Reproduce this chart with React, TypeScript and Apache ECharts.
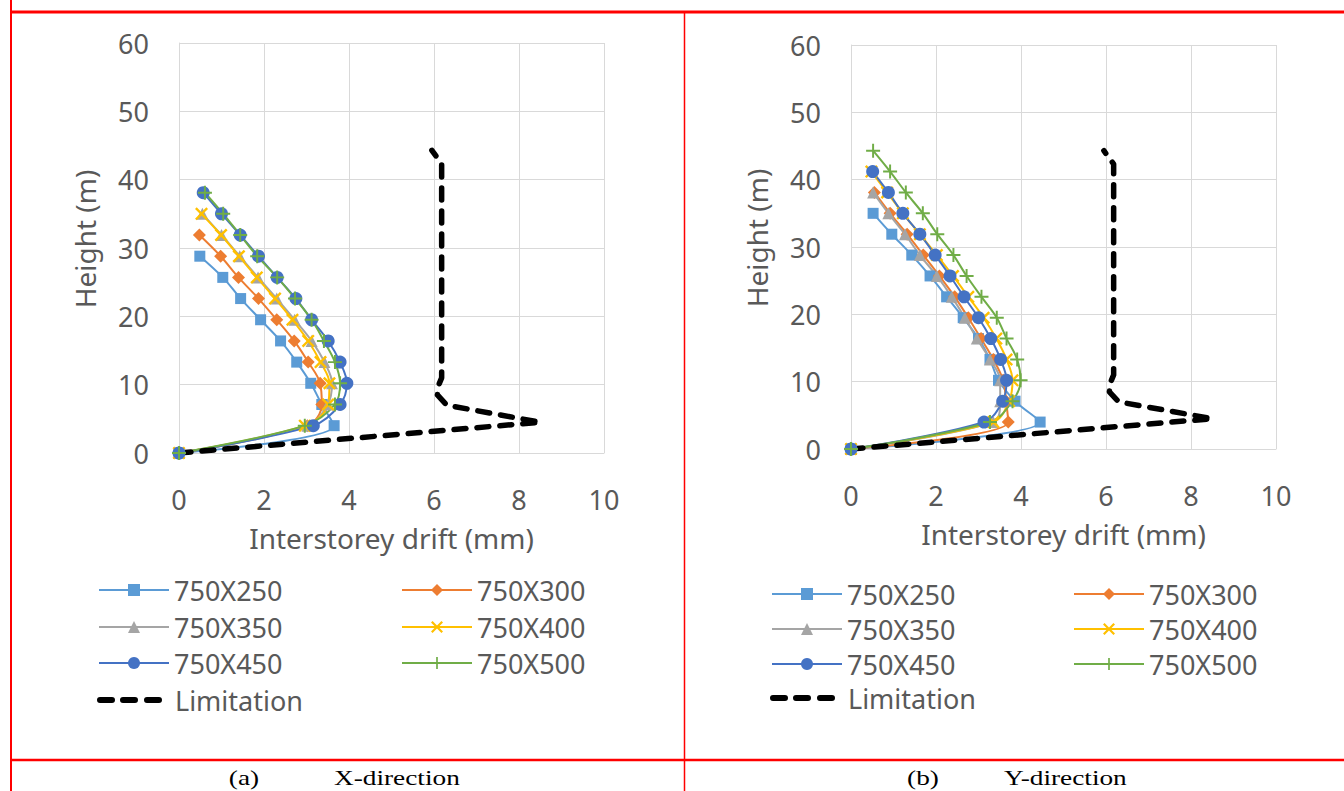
import React, { useEffect, useRef } from "react";
import * as echarts from "echarts";

// Storey levels (m), shared by both directions
const HEIGHTS = [0, 4, 7.1, 10.2, 13.3, 16.4, 19.5, 22.6, 25.7, 28.8, 31.9, 35, 38.1, 41.2, 44.3];

const SERIES_NAMES = ["750X250", "750X300", "750X350", "750X400", "750X450", "750X500"];
const LIMIT_NAME = "Limitation";

// X-direction drifts (mm), from ground upwards
const X_250 = [0, 3.65, 3.36, 3.1, 2.77, 2.39, 1.92, 1.45, 1.03, 0.49];
const X_300 = [0, 3.02, 3.36, 3.32, 3.04, 2.71, 2.3, 1.87, 1.4, 0.98, 0.48];
const X_350 = [0, 3.02, 3.5, 3.6, 3.42, 3.12, 2.72, 2.3, 1.86, 1.43, 1.0, 0.55];
const X_400 = [0, 2.96, 3.51, 3.54, 3.33, 3.04, 2.67, 2.26, 1.83, 1.41, 0.99, 0.53];
const X_450 = [0, 3.16, 3.79, 3.95, 3.79, 3.51, 3.12, 2.75, 2.31, 1.87, 1.44, 1.0, 0.57];
const X_500 = [0, 2.96, 3.67, 3.79, 3.67, 3.41, 3.12, 2.73, 2.31, 1.84, 1.44, 1.04, 0.61];

// Y-direction drifts (mm), from ground upwards
const Y_250 = [0, 4.45, 3.86, 3.47, 3.27, 3.0, 2.64, 2.25, 1.86, 1.43, 0.96, 0.52];
const Y_300 = [0, 3.7, 3.65, 3.58, 3.35, 3.06, 2.76, 2.44, 2.08, 1.7, 1.32, 0.92, 0.55];
const Y_350 = [0, 3.35, 3.51, 3.51, 3.27, 2.96, 2.68, 2.37, 2.02, 1.62, 1.27, 0.88, 0.52];
const Y_400 = [0, 3.35, 3.72, 3.8, 3.66, 3.42, 3.12, 2.76, 2.4, 2.02, 1.62, 1.22, 0.85, 0.48];
const Y_450 = [0, 3.13, 3.57, 3.66, 3.52, 3.29, 3.0, 2.66, 2.33, 1.98, 1.62, 1.22, 0.88, 0.51];
const Y_500 = [0, 3.27, 3.8, 3.99, 3.91, 3.66, 3.43, 3.07, 2.72, 2.41, 2.03, 1.69, 1.29, 0.92, 0.52];

// Drift limitation curve
const LIMIT_DRIFT = [0, 8.5, 6.3, 6.08, 6.1, 6.18, 6.18, 5.95];
const LIMIT_HEIGHT = [0, 4.5, 7.0, 8.5, 9.8, 11, 42.3, 44.3];

const X_TICK_MIN = 0, X_TICK_MAX = 10, X_TICK_STEP = 2;
const Y_TICK_MIN = 0, Y_TICK_MAX = 60, Y_TICK_STEP = 10;

const CAPTIONS = [
  { tag: "(a)", text: "X-direction" },
  { tag: "(b)", text: "Y-direction" },
];

// ---- styles ----
const FONT = "'Noto Sans', 'Open Sans', sans-serif";
const TXT = "#595959";
const GRID_C = "#d9d9d9";
const X_SHAPE = "path://M0,1.3L1.3,0L5,3.7L8.7,0L10,1.3L6.3,5L10,8.7L8.7,10L5,6.3L1.3,10L0,8.7L3.7,5Z";
const PLUS_SHAPE = "path://M4.3,0H5.7V4.3H10V5.7H5.7V10H4.3V5.7H0V4.3H4.3Z";
const DASH_ICON =
  "path://M3,0H15A3,3,0,0,1,15,6H3A3,3,0,0,1,3,0Z M26,0H38A3,3,0,0,1,38,6H26A3,3,0,0,1,26,0Z M50,0H62A3,3,0,0,1,62,6H50A3,3,0,0,1,50,0Z M72.9,2.9H73V3H72.9Z";
const STYLES = [
  { color: "#5B9BD5", symbol: "rect", size: 11 },
  { color: "#ED7D31", symbol: "diamond", size: 13 },
  { color: "#A5A5A5", symbol: "triangle", size: 12 },
  { color: "#FFC000", symbol: X_SHAPE, size: 13 },
  { color: "#4472C4", symbol: "circle", size: 13 },
  { color: "#70AD47", symbol: PLUS_SHAPE, size: 14 },
];

const PANELS = [
  {
    grid: { left: 179, top: 43, width: 425, height: 410 },
    data: [X_250, X_300, X_350, X_400, X_450, X_500],
    legend: { col1: 98, col2: 401, rows: [590, 627, 663, 700] },
    caption: { tagX: 244, textX: 334 },
  },
  {
    grid: { left: 851, top: 45, width: 425, height: 404 },
    data: [Y_250, Y_300, Y_350, Y_400, Y_450, Y_500],
    legend: { col1: 771, col2: 1073, rows: [594, 629, 664, 698] },
    caption: { tagX: 923, textX: 1004 },
  },
];

function buildOption() {
  const grids: any[] = [];
  const xAxes: any[] = [];
  const yAxes: any[] = [];
  const series: any[] = [];
  const legends: any[] = [];
  const graphics: any[] = [];

  PANELS.forEach((p, gi) => {
    grids.push({ ...p.grid, containLabel: false });
    xAxes.push({
      type: "value",
      gridIndex: gi,
      min: X_TICK_MIN,
      max: X_TICK_MAX,
      interval: X_TICK_STEP,
      axisLine: { show: true, onZero: false, lineStyle: { color: GRID_C, width: 1 } },
      axisTick: { show: false },
      splitLine: { show: true, lineStyle: { color: GRID_C, width: 1 } },
      axisLabel: { fontSize: 27, color: TXT, margin: 33, fontFamily: FONT },
      name: "Interstorey drift (mm)",
      nameLocation: "middle",
      nameGap: 71,
      nameTextStyle: { fontSize: 28, color: TXT, fontFamily: FONT },
    });
    yAxes.push({
      type: "value",
      gridIndex: gi,
      min: Y_TICK_MIN,
      max: Y_TICK_MAX,
      interval: Y_TICK_STEP,
      axisLine: { show: true, onZero: false, lineStyle: { color: GRID_C, width: 1 } },
      axisTick: { show: false },
      splitLine: { show: true, lineStyle: { color: GRID_C, width: 1 } },
      axisLabel: { fontSize: 27, color: TXT, margin: 30, fontFamily: FONT },
      name: "Height (m)",
      nameLocation: "middle",
      nameGap: 80,
      nameRotate: 90,
      nameTextStyle: { fontSize: 28, color: TXT, fontFamily: FONT, padding: [0, 0, 0, 18] },
    });

    p.data.forEach((arr, si) => {
      const st = STYLES[si];
      series.push({
        type: "line",
        name: SERIES_NAMES[si],
        xAxisIndex: gi,
        yAxisIndex: gi,
        data: arr.map((d, i) => [d, HEIGHTS[i]]),
        smooth: 0.35,
        symbol: st.symbol,
        symbolSize: st.size,
        showSymbol: true,
        lineStyle: { color: st.color, width: 2 },
        itemStyle: { color: st.color },
        emphasis: { disabled: true },
      });
    });
    series.push({
      type: "line",
      name: LIMIT_NAME,
      xAxisIndex: gi,
      yAxisIndex: gi,
      data: LIMIT_DRIFT.map((d, i) => [d, LIMIT_HEIGHT[i]]),
      smooth: false,
      symbol: "none",
      lineStyle: { color: "#000", width: 5.5, type: [12, 11], cap: "round", join: "round" },
      itemStyle: { color: "#000" },
      emphasis: { disabled: true },
    });

    // legends: 2 columns of series, then Limitation
    const L = p.legend;
    SERIES_NAMES.forEach((nm, si) => {
      const row = Math.floor(si / 2);
      const col = si % 2;
      legends.push({
        data: [nm],
        left: col === 0 ? L.col1 : L.col2,
        top: L.rows[row] - 13.5,
        padding: 0,
        itemWidth: 70,
        itemHeight: 15,
        selectedMode: false,
        textStyle: { fontSize: 27, color: TXT, fontFamily: FONT, lineHeight: 27 },
      });
    });
    legends.push({
      data: [{ name: LIMIT_NAME, icon: DASH_ICON }],
      left: L.col1 - 1,
      top: L.rows[3] - 13.5,
      padding: 0,
      itemWidth: 73,
      itemHeight: 6,
      selectedMode: false,
      itemStyle: { borderWidth: 0 },
      textStyle: { fontSize: 27, color: TXT, fontFamily: FONT, lineHeight: 27 },
    });

    const C = CAPTIONS[gi];
    graphics.push({
      type: "text",
      x: p.caption.tagX,
      y: 778,
      scaleX: 1.3,
      style: { text: C.tag, font: "21px 'Liberation Serif', serif", fill: "#000", textAlign: "center", textVerticalAlign: "middle" },
    });
    graphics.push({
      type: "text",
      x: p.caption.textX,
      y: 778,
      scaleX: 1.3,
      style: { text: C.text, font: "21px 'Liberation Serif', serif", fill: "#000", textAlign: "left", textVerticalAlign: "middle" },
    });
  });

  // red table borders
  const red = "#ff0000";
  graphics.push(
    { type: "line", shape: { x1: 10, y1: 12, x2: 1344, y2: 12 }, style: { stroke: red, lineWidth: 3 } },
    { type: "line", shape: { x1: 11, y1: 0, x2: 11, y2: 791 }, style: { stroke: red, lineWidth: 2 } },
    { type: "line", shape: { x1: 684.5, y1: 12, x2: 684.5, y2: 791 }, style: { stroke: red, lineWidth: 1.5 } },
    { type: "line", shape: { x1: 10, y1: 760, x2: 1344, y2: 760 }, style: { stroke: red, lineWidth: 2.5 } }
  );

  return {
    animation: false,
    backgroundColor: "#ffffff",
    grid: grids,
    xAxis: xAxes,
    yAxis: yAxes,
    legend: legends,
    series,
    graphic: { elements: graphics },
  };
}

export default function App() {
  const ref = useRef<HTMLDivElement>(null);
  useEffect(() => {
    document.body.style.margin = "0";
    if (!ref.current) return;
    const chart = echarts.init(ref.current, undefined, { renderer: "svg" });
    chart.setOption(buildOption() as any);
    return () => chart.dispose();
  }, []);
  return <div ref={ref} style={{ width: 1344, height: 791 }} />;
}
